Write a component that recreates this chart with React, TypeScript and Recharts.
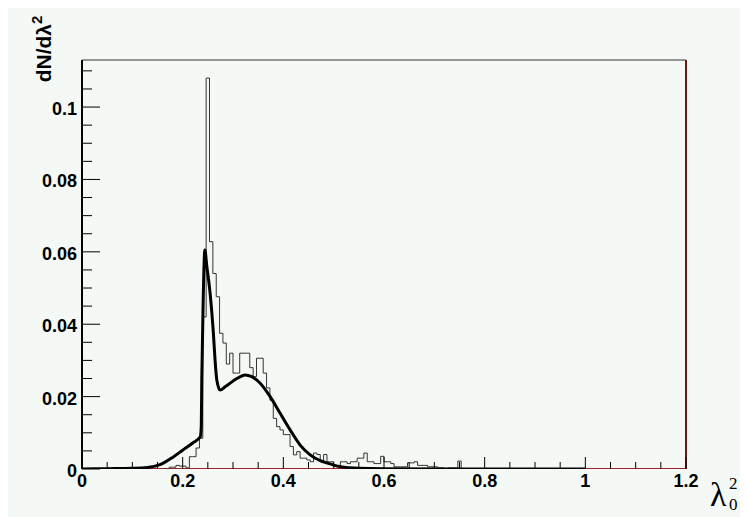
import { LineChart, Line, XAxis, YAxis, ReferenceLine } from 'recharts';

// histogram: 180 bins over [0, 1.2], values listed from bin 24 on
const BIN_WIDTH = 1.2 / 180;
const HIST_FIRST_BIN = 24;
const HIST_VALUES = [
  0, 0, 0.0005, 0.0005, 0.001, 0.0008, 0.0008, 0.0003, 0.0034, 0.0034,
  0.0058, 0.0085, 0.042, 0.108, 0.0628, 0.054, 0.0476, 0.0375, 0.0348, 0.029,
  0.032, 0.0265, 0.0265, 0.032, 0.032, 0.032, 0.028, 0.0255, 0.0306, 0.0306,
  0.0265, 0.0224, 0.019, 0.014, 0.0117, 0.0108, 0.0095, 0.0095, 0.0062, 0.0039,
  0.0048, 0.003, 0.003, 0.0025, 0.002, 0.0044, 0.004, 0.002, 0.004, 0.002,
  0.002, 0.001, 0.001, 0.002, 0.002, 0.0015, 0.002, 0.002, 0.003, 0.003,
  0.0044, 0.002, 0.002, 0.0015, 0.0015, 0.0035, 0.002, 0.002, 0.0015, 0.0006,
  0.0006, 0.0006, 0.0006, 0.0017, 0.0017, 0.002, 0.001, 0.001, 0.001, 0.0006,
  0.0006, 0.0006, 0.0003, 0.0003, 0, 0.0003, 0.0003, 0.0003, 0.0022, 0,
];

// smooth fit curve
const CURVE_X = [
  0, 0.05, 0.1, 0.13, 0.155, 0.18, 0.2, 0.22, 0.235, 0.237, 0.238, 0.241, 0.244,
  0.248, 0.2545, 0.261, 0.2644, 0.2678, 0.2744, 0.2843, 0.2942, 0.3076, 0.324,
  0.3374, 0.354, 0.3738, 0.3936, 0.4135, 0.4334, 0.4533, 0.4732, 0.493, 0.513,
  0.55, 0.6, 0.8, 1.0,
];
const CURVE_Y = [
  0, 0.0001, 0.0002, 0.0004, 0.0012, 0.0032, 0.0052, 0.0072, 0.0089, 0.012, 0.025,
  0.048, 0.0605, 0.056, 0.0486, 0.0376, 0.03, 0.0246, 0.0218, 0.0227, 0.0237,
  0.025, 0.026, 0.0255, 0.0237, 0.02, 0.0154, 0.0108, 0.0066, 0.0039, 0.0023,
  0.0014, 0.0006, 0.0002, 0.0001, 0, 0,
];

const X_LABELS = [0, 0.2, 0.4, 0.6, 0.8, 1, 1.2];
const X_MINOR = [
  0.05, 0.1, 0.15, 0.25, 0.3, 0.35, 0.45, 0.5, 0.55, 0.65, 0.7, 0.75,
  0.85, 0.9, 0.95, 1.05, 1.1, 1.15,
];
const Y_LABELS = [0, 0.02, 0.04, 0.06, 0.08, 0.1];
const Y_MINOR = [
  0.005, 0.01, 0.015, 0.025, 0.03, 0.035, 0.045, 0.05, 0.055, 0.065, 0.07,
  0.075, 0.085, 0.09, 0.095, 0.105, 0.11,
];

const Y_MAX = 0.113;
const FONT = '"Liberation Sans", Arial, sans-serif';

const histData = HIST_VALUES.map((v, i) => ({ x: (HIST_FIRST_BIN + i) * BIN_WIDTH, y: v }));
histData.push({ x: (HIST_FIRST_BIN + HIST_VALUES.length) * BIN_WIDTH, y: 0 });
const curveData = CURVE_X.map((x, i) => ({ x, y: CURVE_Y[i] }));
const baseData = [{ x: 0, y: 0 }, { x: 1.2, y: 0 }];

const isIn = (list: number[], v: number) => list.some((m) => Math.abs(m - v) < 1e-9);

const XTick = (props: any) => {
  const { x, y, payload } = props;
  const major = isIn(X_LABELS, payload.value);
  return (
    <g>
      <line x1={x} x2={x} y1={y} y2={y - (major ? 12 : 7)} stroke="#000" strokeWidth={1} />
      {major && (
        <text x={x} y={y + 18} textAnchor="middle" fontSize={18} fontWeight="bold" fontFamily={FONT} fill="#000">
          {String(payload.value)}
        </text>
      )}
    </g>
  );
};

const YTick = (props: any) => {
  const { x, y, payload } = props;
  const major = isIn(Y_LABELS, payload.value);
  return (
    <g>
      <line x1={x} x2={x + (major ? 18 : 10)} y1={y} y2={y} stroke="#000" strokeWidth={1} />
      {major && (
        <text x={x - 5} y={y + 8} textAnchor="end" fontSize={18} fontWeight="bold" fontFamily={FONT} fill="#000">
          {String(payload.value)}
        </text>
      )}
    </g>
  );
};

const YTitle = () => (
  <text transform="translate(43,41) rotate(-90)" textAnchor="middle" fontSize={21} fontWeight="bold" fontFamily={FONT} fill="#000">
    dN/dλ<tspan dy={-9} fontSize={15}>2</tspan>
  </text>
);

const XTitle = () => (
  <g fontFamily='"Liberation Serif", "Times New Roman", serif' fill="#000">
    <text x={702} y={498} fontSize={34}>λ</text>
    <text x={721} y={481} fontSize={17}>2</text>
    <text x={721} y={502} fontSize={17}>0</text>
  </g>
);

const App = () => {
  return (
    <div style={{ width: 740, height: 509, background: '#f4f9f5' }}>
      <LineChart width={740} height={509} margin={{ top: 52, right: 62, left: 0, bottom: 0 }}>
        <XAxis
          type="number"
          dataKey="x"
          domain={[0, 1.2]}
          ticks={[...X_LABELS, ...X_MINOR].sort((a, b) => a - b)}
          interval={0}
          height={48}
          axisLine={false}
          tickLine={false}
          tickSize={0}
          tickMargin={0}
          tick={XTick}
          allowDataOverflow
          label={{ content: XTitle }}
        />
        <YAxis
          type="number"
          dataKey="y"
          domain={[0, Y_MAX]}
          ticks={[...Y_LABELS, ...Y_MINOR].sort((a, b) => a - b)}
          interval={0}
          width={74}
          axisLine={{ stroke: '#000', strokeWidth: 2 }}
          tickLine={false}
          tickSize={0}
          tickMargin={0}
          tick={YTick}
          allowDataOverflow
          label={{ content: YTitle }}
        />
        <ReferenceLine y={Y_MAX} stroke="#333" strokeWidth={1} />
        <ReferenceLine x={1.2} stroke="#7a1414" strokeWidth={2} />
        <Line data={baseData} dataKey="y" stroke="#a3202a" strokeWidth={2} dot={false} isAnimationActive={false} />
        <Line data={histData} dataKey="y" type="stepAfter" stroke="#333" strokeWidth={1} dot={false} isAnimationActive={false} />
        <Line data={curveData} dataKey="y" type="monotone" stroke="#000" strokeWidth={3} dot={false} isAnimationActive={false} />
      </LineChart>
    </div>
  );
};

export default App;
